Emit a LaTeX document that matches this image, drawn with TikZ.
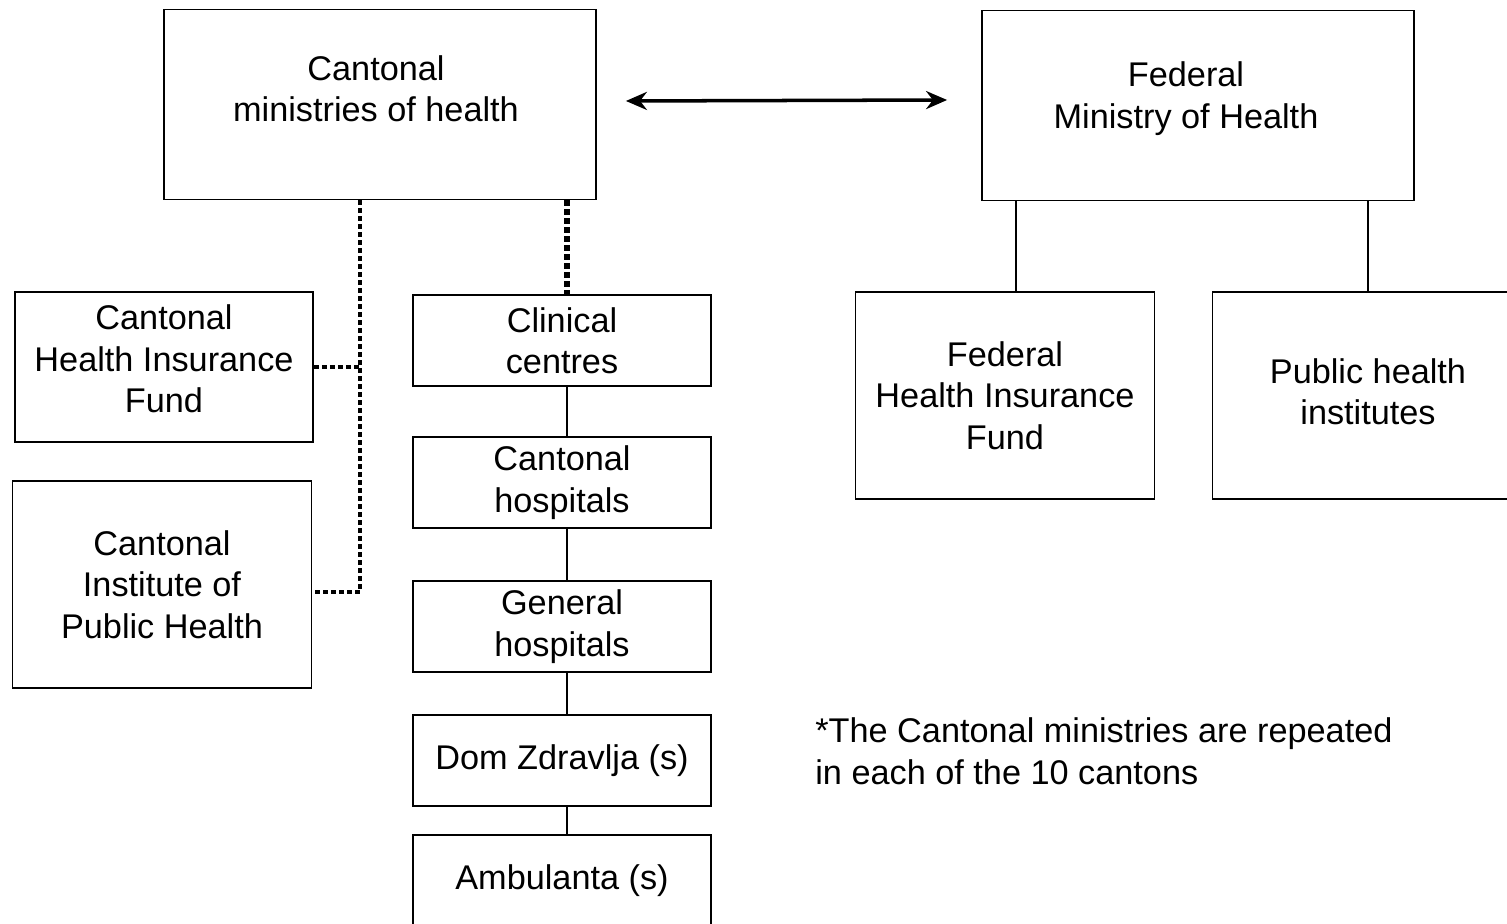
\documentclass[tikz,border=0pt]{standalone}
\usepackage{fontspec}
\setmainfont{Liberation Sans}
\usepackage{tikz}
\usetikzlibrary{
    arrows.meta,
    calc,
    positioning
}

\begin{document}
\begin{tikzpicture}[x=0.2mm, y=-0.2mm,
    every node/.style={font=\fontsize{19.5}{23.5}\selectfont, align=center},
    every label/.style={inner sep=0pt},
    box/.style={draw, line width=1pt, inner sep=2pt},
    bigbox/.style={box, minimum width=86.4mm, minimum height=38mm},
    unitbox/.style={box, minimum width=59.6mm, minimum height=18.2mm},
    tallbox/.style={box, minimum width=59.8mm, minimum height=41.4mm},
    thinlink/.style={line width=2pt, dash pattern=on 1mm off 0.6mm},
    thicklink/.style={line width=3.4pt, dash pattern=on 1.2mm off 0.6mm},
    link/.style={line width=1pt}]
    \useasboundingbox (0,0) rectangle (1507,924);
    \clip (0,0) rectangle (1507,924);

    \node[bigbox, label={[shift={(-0.8mm,3.2mm)}]center:Cantonal\\ministries of health}] (cmh) at (380,104.5) {};
    \node[bigbox, label={[shift={(-2.4mm,1.4mm)}]center:Federal\\Ministry of Health}] (fmh) at (1198,105.5) {};
    \draw[line width=2pt, {Stealth[length=4.2mm, width=3.6mm]}-{Stealth[length=4.2mm, width=3.6mm]}]
        ([xshift=5.8mm, yshift=0.7mm]cmh.east) -- ([xshift=-6.8mm, yshift=1.1mm]fmh.west);

    % cantonal side
    \node[box, minimum width=59.6mm, minimum height=30mm,
        label={[shift={(0,1.6mm)}]center:Cantonal\\Health Insurance\\Fund}] (chif) at (164,367) {};
    \node[tallbox] (ciph) at (162,584.5) {Cantonal\\Institute of\\Public Health};

    \node[unitbox] (clin) at (562,340.5) {Clinical\\centres};
    \node[unitbox] (canth) at (562,482.5) {Cantonal\\hospitals};
    \node[unitbox] (genh) at (562,626.5) {General\\hospitals};
    \node[unitbox] (dom) at (562,760.5) {Dom Zdravlja (s)};
    \node[unitbox] (amb) at (562,880.5) {Ambulanta (s)};

    \coordinate (split) at (360,592);
    \coordinate (spine) at (567,0);

    \draw[thinlink] (cmh.south -| split) -- (split) -- (split -| ciph.east);
    \draw[thinlink] (chif.east) -- (chif.east -| split);
    \draw[thicklink] (cmh.south -| spine) -- (clin.north -| spine);

    \draw[link] (clin.south -| spine) -- (canth.north -| spine);
    \draw[link] (canth.south -| spine) -- (genh.north -| spine);
    \draw[link] (genh.south -| spine) -- (dom.north -| spine);
    \draw[link] (dom.south -| spine) -- (amb.north -| spine);

    % federal side
    \node[tallbox] (fhif) at (1005,395.5) {Federal\\Health Insurance\\Fund};
    \node[tallbox, label={[shift={(1.2mm,0.8mm)}]center:Public health\\institutes}] (phi) at (1362,395.5) {};

    \draw[link] ([xshift=2.2mm]fhif.north) -- ([xshift=2.2mm]fhif.north |- fmh.south);
    \draw[link] ([xshift=1.2mm]phi.north) -- ([xshift=1.2mm]phi.north |- fmh.south);

    \node[anchor=base west, align=left, inner sep=0pt] (note) at (815,784)
        {*The Cantonal ministries are repeated\\in each of the 10 cantons};
\end{tikzpicture}
\end{document}
